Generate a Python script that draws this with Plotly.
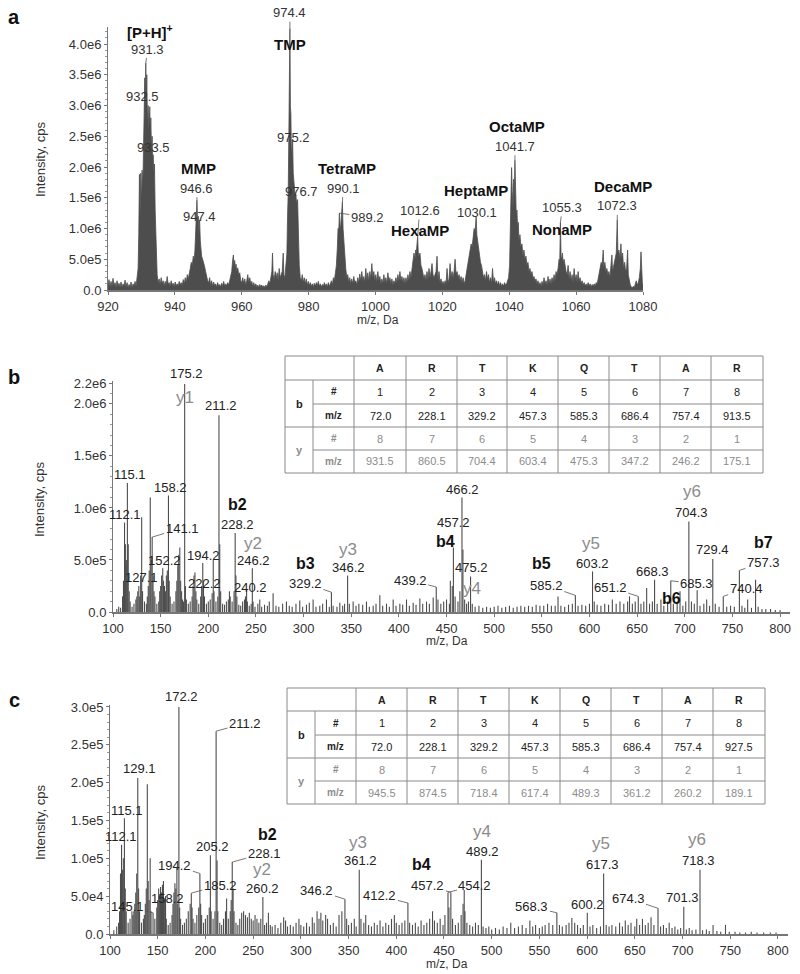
import plotly.graph_objects as go

FONT = "Liberation Sans, Arial, sans-serif"
W, H = 800, 974

# ---------------- Panel a : full-scan profile (m/z, intensity x1e6) ----------------
a_profile = [
    (920.0, 0.08), (920.3, 0.17), (920.6, 0.05), (920.9, 0.14), (921.2, 0.06), (921.5, 0.19), (921.8, 0.07),
    (922.1, 0.12), (922.4, 0.04), (922.7, 0.15), (923.0, 0.06), (923.3, 0.11), (923.6, 0.05), (923.9, 0.13),
    (924.2, 0.04), (924.5, 0.10), (924.8, 0.06), (925.1, 0.16), (925.4, 0.05), (925.7, 0.12), (926.0, 0.04),
    (926.3, 0.09), (926.6, 0.05), (926.9, 0.13), (927.2, 0.04), (927.5, 0.10), (927.8, 0.07), (928.1, 0.14),
    (928.4, 0.06), (928.7, 0.20), (929.0, 0.35),
    (929.2, 0.90), (929.4, 1.88), (929.6, 1.20), (929.8, 1.90), (930.0, 1.45), (930.2, 1.95), (930.4, 1.60),
    (930.6, 2.10), (930.8, 2.50), (931.0, 3.45), (931.15, 2.90), (931.3, 3.69), (931.45, 3.10), (931.6, 3.50),
    (931.8, 2.70), (932.0, 3.00), (932.2, 2.60), (932.35, 2.90), (932.5, 2.98), (932.65, 2.50), (932.8, 2.80),
    (933.0, 2.30), (933.2, 2.50), (933.35, 2.10), (933.5, 2.20), (933.7, 1.90), (933.9, 2.05), (934.1, 1.30),
    (934.3, 1.00), (934.5, 0.50), (934.7, 0.25), (935.0, 0.12),
    (935.3, 0.18), (935.6, 0.08), (935.9, 0.20), (936.2, 0.10), (936.5, 0.15), (936.8, 0.06), (937.1, 0.14),
    (937.4, 0.08), (937.7, 0.22), (938.0, 0.09), (938.3, 0.12), (938.6, 0.06), (938.9, 0.15), (939.2, 0.08),
    (939.5, 0.11), (939.8, 0.05), (940.1, 0.13), (940.4, 0.07), (940.7, 0.10), (941.0, 0.06), (941.3, 0.14),
    (941.6, 0.08), (941.9, 0.12), (942.2, 0.07), (942.5, 0.17), (942.8, 0.10), (943.1, 0.20), (943.4, 0.12),
    (943.7, 0.25), (944.0, 0.18), (944.3, 0.30),
    (944.6, 0.35), (944.9, 0.45), (945.2, 0.40), (945.5, 0.55), (945.8, 0.50), (946.0, 0.65), (946.2, 0.90),
    (946.4, 1.20), (946.6, 1.46), (946.8, 1.10), (947.0, 1.20), (947.2, 0.90), (947.4, 1.14), (947.6, 0.80),
    (947.8, 0.60), (948.0, 0.55), (948.3, 0.50), (948.6, 0.45), (948.9, 0.38), (949.2, 0.30), (949.5, 0.20),
    (949.8, 0.15),
    (950.1, 0.12), (950.4, 0.20), (950.7, 0.08), (951.0, 0.15), (951.3, 0.06), (951.6, 0.13), (951.9, 0.07),
    (952.2, 0.10), (952.5, 0.05), (952.8, 0.12), (953.1, 0.06), (953.4, 0.09), (953.7, 0.05), (954.0, 0.11),
    (954.3, 0.07), (954.6, 0.14), (954.9, 0.06), (955.2, 0.10), (955.5, 0.07), (955.8, 0.12), (956.1, 0.08),
    (956.4, 0.15), (956.7, 0.20),
    (957.0, 0.30), (957.3, 0.50), (957.5, 0.57), (957.7, 0.40), (957.9, 0.48), (958.1, 0.35), (958.3, 0.42),
    (958.5, 0.30), (958.8, 0.36), (959.1, 0.25), (959.4, 0.28), (959.7, 0.15),
    (960.0, 0.12), (960.3, 0.20), (960.6, 0.10), (960.9, 0.18), (961.2, 0.08), (961.5, 0.15), (961.8, 0.25),
    (962.1, 0.12), (962.4, 0.20), (962.7, 0.10), (963.0, 0.14), (963.3, 0.06), (963.6, 0.12), (963.9, 0.05),
    (964.2, 0.10), (964.5, 0.05), (964.8, 0.08), (965.1, 0.04), (965.4, 0.09), (965.7, 0.05), (966.0, 0.08),
    (966.3, 0.04), (966.6, 0.07), (966.9, 0.04), (967.2, 0.08), (967.5, 0.05), (967.8, 0.10), (968.1, 0.15),
    (968.4, 0.10), (968.7, 0.20),
    (969.0, 0.30), (969.2, 0.60), (969.4, 0.25), (969.7, 0.18), (970.0, 0.30), (970.3, 0.20), (970.6, 0.28),
    (970.9, 0.15), (971.2, 0.35), (971.5, 0.20), (971.8, 0.25), (972.1, 0.30), (972.4, 0.60), (972.6, 0.25),
    (972.9, 0.20), (973.2, 0.35), (973.5, 0.60),
    (973.7, 1.20), (973.9, 1.60), (974.1, 2.60), (974.25, 3.40), (974.4, 4.25), (974.55, 3.00), (974.7, 2.85),
    (974.85, 2.20), (975.0, 2.30), (975.2, 2.45), (975.4, 1.90), (975.6, 1.70), (975.8, 1.60), (976.0, 1.50),
    (976.2, 1.55), (976.4, 1.40), (976.55, 1.45), (976.7, 1.47), (976.85, 1.10), (977.0, 0.70), (977.2, 0.40),
    (977.5, 0.20),
    (977.8, 0.15), (978.1, 0.25), (978.4, 0.12), (978.7, 0.20), (979.0, 0.10), (979.3, 0.18), (979.6, 0.08),
    (979.9, 0.14), (980.2, 0.07), (980.5, 0.12), (980.8, 0.06), (981.1, 0.10), (981.4, 0.05), (981.7, 0.11),
    (982.0, 0.06), (982.3, 0.12), (982.6, 0.07), (982.9, 0.14), (983.2, 0.06), (983.5, 0.10), (983.8, 0.05),
    (984.1, 0.09), (984.4, 0.06), (984.7, 0.12), (985.0, 0.07), (985.3, 0.10), (985.6, 0.05), (985.9, 0.12),
    (986.2, 0.06), (986.5, 0.10), (986.8, 0.15), (987.1, 0.08), (987.4, 0.20), (987.7, 0.15), (988.0, 0.30),
    (988.3, 0.40),
    (988.6, 0.70), (988.8, 1.00), (989.0, 0.95), (989.2, 1.25), (989.4, 1.00), (989.6, 1.05), (989.8, 1.20),
    (990.1, 1.43), (990.3, 1.00), (990.5, 0.80), (990.7, 0.70), (990.9, 0.50), (991.1, 0.35), (991.4, 0.20),
    (991.7, 0.25), (992.0, 0.12), (992.3, 0.20), (992.6, 0.10), (992.9, 0.18), (993.2, 0.10), (993.5, 0.22),
    (993.8, 0.12), (994.1, 0.15), (994.4, 0.08), (994.7, 0.20), (995.0, 0.12), (995.3, 0.26), (995.6, 0.15),
    (995.9, 0.30), (996.2, 0.15), (996.5, 0.22), (996.8, 0.12), (997.1, 0.35), (997.4, 0.15), (997.7, 0.28),
    (998.0, 0.14), (998.3, 0.30), (998.6, 0.18), (998.9, 0.43), (999.2, 0.20), (999.5, 0.30), (999.8, 0.15),
    (1000.1, 0.25), (1000.4, 0.12), (1000.7, 0.30), (1001.0, 0.15), (1001.3, 0.22), (1001.6, 0.10),
    (1001.9, 0.18), (1002.2, 0.10), (1002.5, 0.25), (1002.8, 0.12), (1003.1, 0.20), (1003.4, 0.10),
    (1003.7, 0.28), (1004.0, 0.15), (1004.3, 0.20), (1004.6, 0.10), (1004.9, 0.18), (1005.2, 0.08),
    (1005.5, 0.15), (1005.8, 0.10), (1006.1, 0.20), (1006.4, 0.12), (1006.7, 0.25), (1007.0, 0.14),
    (1007.3, 0.30), (1007.6, 0.15), (1007.9, 0.22), (1008.2, 0.12), (1008.5, 0.20), (1008.8, 0.10),
    (1009.1, 0.20), (1009.4, 0.12), (1009.7, 0.25), (1010.0, 0.15), (1010.3, 0.30), (1010.6, 0.20),
    (1010.9, 0.35),
    (1011.2, 0.45), (1011.5, 0.60), (1011.8, 0.50), (1012.0, 0.65), (1012.2, 0.60), (1012.4, 0.80),
    (1012.6, 0.87), (1012.8, 0.60), (1013.0, 0.55), (1013.3, 0.60), (1013.6, 0.40), (1013.9, 0.35),
    (1014.2, 0.25), (1014.5, 0.18),
    (1014.8, 0.25), (1015.1, 0.15), (1015.4, 0.30), (1015.7, 0.18), (1016.0, 0.35), (1016.3, 0.20),
    (1016.6, 0.30), (1016.9, 0.43), (1017.2, 0.25), (1017.5, 0.20), (1017.8, 0.25), (1018.1, 0.30),
    (1018.4, 0.55), (1018.7, 0.15), (1019.0, 0.30), (1019.3, 0.12), (1019.6, 0.18), (1019.9, 0.10),
    (1020.2, 0.14), (1020.5, 0.08), (1020.8, 0.15), (1021.1, 0.10), (1021.4, 0.35), (1021.7, 0.12),
    (1022.0, 0.18), (1022.3, 0.43), (1022.6, 0.20), (1022.9, 0.30), (1023.2, 0.20), (1023.5, 0.30),
    (1023.8, 0.50), (1024.1, 0.25), (1024.4, 0.30), (1024.7, 0.20), (1025.0, 0.25), (1025.3, 0.15),
    (1025.6, 0.22), (1025.9, 0.12), (1026.2, 0.20), (1026.5, 0.10), (1026.8, 0.15), (1027.1, 0.25),
    (1027.4, 0.30),
    (1027.7, 0.45), (1028.0, 0.55), (1028.3, 0.60), (1028.6, 0.75), (1028.9, 0.70), (1029.2, 0.90),
    (1029.5, 1.00), (1029.8, 0.95), (1030.1, 1.19), (1030.3, 0.90), (1030.5, 0.80), (1030.8, 0.65),
    (1031.1, 0.55), (1031.4, 0.45), (1031.7, 0.40), (1032.0, 0.30), (1032.3, 0.20),
    (1032.6, 0.25), (1032.9, 0.15), (1033.2, 0.30), (1033.5, 0.18), (1033.8, 0.25), (1034.1, 0.12),
    (1034.4, 0.20), (1034.7, 0.10), (1035.0, 0.35), (1035.3, 0.12), (1035.6, 0.20), (1035.9, 0.10),
    (1036.2, 0.15), (1036.5, 0.08), (1036.8, 0.14), (1037.1, 0.07), (1037.4, 0.12), (1037.7, 0.06),
    (1038.0, 0.10), (1038.3, 0.06), (1038.6, 0.12), (1038.9, 0.08), (1039.2, 0.10), (1039.5, 0.15),
    (1039.8, 0.20),
    (1040.1, 0.40), (1040.3, 1.20), (1040.5, 1.90), (1040.7, 1.99), (1040.9, 1.60), (1041.1, 1.30),
    (1041.3, 1.80), (1041.5, 1.50), (1041.7, 2.11), (1041.9, 1.40), (1042.1, 1.20), (1042.3, 1.30),
    (1042.5, 1.00), (1042.7, 1.10), (1042.9, 0.80), (1043.2, 0.90), (1043.5, 0.70), (1043.8, 0.75),
    (1044.1, 0.55), (1044.4, 0.65), (1044.7, 0.50), (1045.0, 0.55), (1045.3, 0.40), (1045.6, 0.45),
    (1045.9, 0.30), (1046.2, 0.35), (1046.5, 0.25), (1046.8, 0.30), (1047.1, 0.20), (1047.4, 0.22),
    (1047.7, 0.15), (1048.0, 0.18),
    (1048.3, 0.10), (1048.6, 0.15), (1048.9, 0.08), (1049.2, 0.12), (1049.5, 0.06), (1049.8, 0.14),
    (1050.1, 0.08), (1050.4, 0.20), (1050.7, 0.10), (1051.0, 0.15), (1051.3, 0.08), (1051.6, 0.22),
    (1051.9, 0.10), (1052.2, 0.18), (1052.5, 0.10), (1052.8, 0.20), (1053.1, 0.12), (1053.4, 0.25),
    (1053.7, 0.15), (1054.0, 0.30), (1054.3, 0.25),
    (1054.6, 0.35), (1054.9, 0.50), (1055.1, 0.45), (1055.3, 1.10), (1055.5, 0.55), (1055.7, 0.50),
    (1055.9, 0.60), (1056.1, 0.45), (1056.4, 0.50), (1056.7, 0.35), (1057.0, 0.30), (1057.3, 0.25),
    (1057.6, 0.40), (1057.9, 0.18), (1058.2, 0.30), (1058.5, 0.15), (1058.8, 0.25), (1059.1, 0.12),
    (1059.4, 0.35), (1059.7, 0.15), (1060.0, 0.25), (1060.3, 0.12), (1060.6, 0.30), (1060.9, 0.14),
    (1061.2, 0.20), (1061.5, 0.10), (1061.8, 0.15), (1062.1, 0.08), (1062.4, 0.12), (1062.7, 0.06),
    (1063.0, 0.10), (1063.3, 0.06), (1063.6, 0.12), (1063.9, 0.07), (1064.2, 0.10), (1064.5, 0.05),
    (1064.8, 0.09), (1065.1, 0.06), (1065.4, 0.10), (1065.7, 0.06), (1066.0, 0.12), (1066.3, 0.10),
    (1066.6, 0.18), (1066.9, 0.25),
    (1067.2, 0.35), (1067.5, 0.45), (1067.8, 0.40), (1068.1, 0.65), (1068.3, 0.35), (1068.6, 0.45),
    (1068.9, 0.30), (1069.2, 0.35), (1069.5, 0.25), (1069.8, 0.30), (1070.1, 0.20), (1070.4, 0.35),
    (1070.7, 0.57), (1070.9, 0.30), (1071.2, 0.40), (1071.5, 0.45), (1071.8, 0.55), (1072.0, 0.60),
    (1072.3, 1.14), (1072.5, 0.60), (1072.8, 0.65), (1073.1, 0.50), (1073.4, 0.75), (1073.6, 0.50),
    (1073.9, 0.60), (1074.2, 0.35), (1074.5, 0.45), (1074.8, 0.30), (1075.1, 0.35), (1075.4, 0.65),
    (1075.6, 0.25), (1075.9, 0.15), (1076.2, 0.08), (1076.5, 0.05), (1076.8, 0.04), (1077.1, 0.06),
    (1077.4, 0.04), (1077.7, 0.10), (1078.0, 0.15), (1078.3, 0.08), (1078.6, 0.12), (1078.9, 0.20),
    (1079.2, 0.35), (1079.4, 0.62), (1079.6, 0.20), (1079.8, 0.12), (1080.0, 0.08),
]
a_scale = 1e6

# ---------------- Panel b : MS/MS sticks (m/z, intensity x1e6) ----------------
b_peaks = [
    (104, 0.03), (106, 0.05), (108, 0.04), (110, 0.15), (111, 0.30), (112.1, 0.86), (113, 0.65), (113.5, 0.45),
    (114, 0.50), (115.1, 1.24), (116, 0.65), (117, 0.20), (118, 0.10), (120, 0.05), (122, 0.08), (124, 0.12),
    (125, 0.15), (126, 0.20), (127.1, 0.25), (128, 0.15), (129, 0.35), (130.1, 0.91), (131, 0.20), (133, 0.10),
    (135, 0.08), (136, 0.15), (137, 0.25), (138, 0.40), (139.1, 1.10), (140, 0.50), (141.1, 0.72), (142, 0.35),
    (143, 0.20), (144, 0.15), (146, 0.08), (148, 0.10), (149, 0.20), (150, 0.25), (151, 0.35), (152.2, 0.42),
    (153, 0.30), (154, 0.25), (155, 0.20), (156, 0.35), (157, 0.40), (158.2, 1.12), (159, 0.30), (160, 0.15),
    (162, 0.08), (164, 0.10), (166, 0.20), (167, 0.30), (168, 0.45), (169, 0.55), (170.1, 0.62), (171, 0.30),
    (172, 0.20), (173, 0.12), (174, 0.10), (175.2, 2.19), (176, 0.25), (177, 0.12), (179, 0.08), (181, 0.10),
    (183, 0.15), (184, 0.25), (185, 0.35), (186, 0.38), (187, 0.20), (188, 0.12), (190, 0.08), (192, 0.15),
    (193, 0.25), (194.2, 0.47), (195, 0.30), (196, 0.15), (198, 0.08), (200, 0.10), (202, 0.12), (204, 0.18),
    (205.2, 0.50), (206, 0.20), (208, 0.10), (210, 0.15), (211.2, 1.89), (212, 0.65), (213, 0.20), (215, 0.08),
    (217, 0.07), (219, 0.10), (221, 0.12), (222.2, 0.20), (223, 0.15), (225, 0.10), (227, 0.20), (228.2, 0.76),
    (229, 0.35), (230, 0.15), (232, 0.07), (234, 0.06), (236, 0.10), (238, 0.12), (239, 0.15), (240.2, 0.22),
    (241, 0.10), (243, 0.06), (245, 0.08), (246.2, 0.42), (247, 0.10), (249, 0.05), (252, 0.08), (254, 0.12),
    (256, 0.05), (259, 0.07), (262, 0.06), (264, 0.10), (268, 0.18), (271, 0.06), (274, 0.05), (278, 0.08),
    (282, 0.10), (285, 0.06), (288, 0.05), (292, 0.08), (296, 0.11), (299, 0.05), (303, 0.07), (306, 0.09),
    (310, 0.12), (313, 0.05), (317, 0.06), (320, 0.08), (324, 0.12), (327, 0.05), (329.2, 0.19), (331, 0.06),
    (335, 0.05), (338, 0.09), (341, 0.06), (343, 0.08), (346.2, 0.35), (348, 0.08), (352, 0.10), (355, 0.06),
    (358, 0.08), (362, 0.07), (366, 0.10), (369, 0.05), (373, 0.06), (376, 0.08), (380, 0.16), (383, 0.06),
    (387, 0.08), (390, 0.05), (394, 0.12), (397, 0.06), (401, 0.08), (404, 0.07), (408, 0.12), (411, 0.06),
    (415, 0.09), (418, 0.07), (422, 0.13), (425, 0.08), (429, 0.10), (432, 0.08), (436, 0.14), (439.2, 0.24),
    (441, 0.12), (444, 0.08), (447, 0.10), (450, 0.12), (453, 0.08), (454, 0.30), (456, 0.25), (457.2, 0.62),
    (459, 0.15), (462, 0.10), (464, 0.20), (466.2, 1.10), (467.2, 0.60), (469, 0.12), (471, 0.08), (473, 0.10),
    (475.2, 0.34), (477, 0.08), (480, 0.05), (484, 0.06), (488, 0.04), (492, 0.05), (496, 0.04), (500, 0.05),
    (504, 0.06), (508, 0.04), (512, 0.05), (516, 0.06), (520, 0.04), (524, 0.05), (528, 0.06), (532, 0.05),
    (536, 0.06), (540, 0.05), (544, 0.07), (548, 0.06), (552, 0.06), (556, 0.08), (560, 0.06), (564, 0.06),
    (567, 0.15), (570, 0.06), (574, 0.05), (578, 0.07), (582, 0.08), (585.2, 0.16), (588, 0.06), (592, 0.07),
    (596, 0.06), (600, 0.08), (603.2, 0.39), (605, 0.10), (608, 0.07), (612, 0.06), (616, 0.08), (620, 0.07),
    (624, 0.12), (628, 0.08), (632, 0.10), (636, 0.08), (640, 0.10), (642, 0.15), (645, 0.08), (648, 0.10),
    (651.2, 0.15), (654, 0.08), (657, 0.10), (660, 0.23), (663, 0.08), (666, 0.10), (668.3, 0.31), (671, 0.08),
    (675, 0.12), (678, 0.06), (682, 0.10), (685.3, 0.30), (688, 0.08), (692, 0.10), (695, 0.20), (698, 0.06),
    (701, 0.10), (704.3, 0.87), (707, 0.10), (710, 0.08), (713, 0.21), (716, 0.06), (720, 0.08), (723, 0.12),
    (726, 0.06), (729.4, 0.51), (732, 0.08), (736, 0.05), (740.4, 0.15), (744, 0.05), (748, 0.06), (752, 0.05),
    (757.3, 0.40), (760, 0.06), (763, 0.04), (766, 0.12), (770, 0.04), (774.3, 0.31), (777, 0.05), (781, 0.03),
    (785, 0.03), (790, 0.03), (795, 0.02), (800, 0.02),
]
b_scale = 1e6

# ---------------- Panel c : MS/MS sticks (m/z, intensity x1e5) ----------------
c_peaks = [
    (104, 0.05), (107, 0.10), (109, 0.15), (110, 0.30), (111, 0.80), (112.1, 1.18), (113, 0.85), (114, 1.00),
    (115.1, 1.53), (116, 0.60), (117, 0.30), (119, 0.15), (121, 0.20), (123, 0.30), (124, 0.25), (125, 0.30),
    (126, 0.40), (127, 0.55), (128, 0.80), (129.1, 2.06), (130, 0.60), (131, 0.30), (133, 0.15), (135, 0.20),
    (136, 0.25), (137, 0.40), (138, 0.60), (139.1, 1.98), (140, 0.70), (141, 0.45), (142.1, 1.00), (143, 0.30),
    (145.1, 0.28), (147, 0.20), (149, 0.35), (150, 0.45), (151, 0.60), (152, 0.50), (153, 0.62), (154, 0.55),
    (155, 0.65), (156, 0.70), (157, 0.45), (158.2, 0.50), (159, 0.20), (161, 0.12), (163, 0.15), (165, 0.25),
    (166, 0.40), (167, 0.55), (168, 0.67), (169, 0.60), (170.1, 0.88), (171, 0.40), (172.2, 3.00), (173, 0.35),
    (174, 0.20), (176, 0.12), (178, 0.15), (180, 0.20), (182, 0.30), (184, 0.40), (185.2, 0.54), (186, 0.35),
    (187, 0.20), (189, 0.15), (191, 0.25), (193, 0.35), (194.2, 0.80), (195, 0.40), (196, 0.25), (198, 0.15),
    (200, 0.20), (202, 0.25), (204, 0.35), (205.2, 1.04), (206, 0.30), (208, 0.20), (210, 0.30), (211.2, 2.68),
    (212.2, 0.97), (213, 0.30), (215, 0.15), (217, 0.12), (219, 0.20), (221, 0.30), (222.2, 0.47), (224, 0.20),
    (226, 0.30), (227, 0.45), (228.1, 0.95), (229, 0.60), (230, 0.30), (232, 0.15), (234, 0.12), (236, 0.20),
    (238, 0.28), (240, 0.30), (242, 0.25), (244, 0.22), (246, 0.28), (248, 0.20), (250, 0.18), (252, 0.25),
    (254, 0.20), (256, 0.15), (258, 0.20), (260.2, 0.49), (262, 0.12), (264, 0.15), (266, 0.28), (268, 0.12),
    (270, 0.10), (273, 0.12), (276, 0.08), (279, 0.15), (282, 0.22), (284, 0.18), (286, 0.10), (289, 0.12),
    (292, 0.10), (295, 0.15), (298, 0.20), (300, 0.12), (303, 0.10), (306, 0.15), (309, 0.10), (312, 0.22),
    (314, 0.15), (317, 0.30), (319, 0.20), (321, 0.28), (323, 0.18), (326, 0.25), (328, 0.20), (331, 0.12),
    (334, 0.15), (337, 0.10), (340, 0.25), (343, 0.30), (346.2, 0.46), (348, 0.20), (350, 0.12), (353, 0.15),
    (356, 0.20), (358, 0.10), (361.2, 0.85), (363, 0.20), (366, 0.15), (368, 0.25), (371, 0.12), (374, 0.10),
    (377, 0.15), (380, 0.12), (383, 0.18), (386, 0.10), (389, 0.15), (392, 0.12), (395, 0.20), (398, 0.25),
    (400, 0.15), (403, 0.12), (406, 0.15), (409, 0.18), (412.2, 0.41), (414, 0.15), (417, 0.12), (420, 0.15),
    (423, 0.10), (426, 0.18), (429, 0.12), (432, 0.15), (435, 0.20), (438, 0.30), (440, 0.18), (443, 0.15),
    (446, 0.20), (449, 0.12), (451, 0.25), (454.2, 0.55), (455.2, 0.35), (457.2, 0.55), (459, 0.20), (462, 0.12),
    (465, 0.15), (468, 0.25), (470, 0.40), (471.2, 0.58), (472, 0.30), (474, 0.15), (477, 0.12), (480, 0.10),
    (483, 0.15), (486, 0.12), (489.2, 0.98), (491, 0.10), (494, 0.08), (497, 0.10), (500, 0.06), (504, 0.08),
    (508, 0.06), (512, 0.10), (516, 0.08), (520, 0.15), (524, 0.08), (528, 0.10), (532, 0.12), (536, 0.08),
    (540, 0.18), (543, 0.10), (546, 0.12), (550, 0.08), (553, 0.10), (556, 0.12), (560, 0.15), (564, 0.12),
    (568.3, 0.28), (571, 0.12), (574, 0.10), (578, 0.12), (581, 0.15), (584, 0.21), (587, 0.15), (590, 0.12),
    (593, 0.08), (596, 0.12), (600.2, 0.28), (603, 0.10), (606, 0.12), (610, 0.08), (614, 0.10), (617.3, 0.80),
    (620, 0.12), (623, 0.10), (626, 0.12), (630, 0.10), (634, 0.15), (637, 0.10), (640, 0.18), (643, 0.12),
    (646, 0.15), (650, 0.10), (652, 0.20), (655, 0.12), (658, 0.20), (661, 0.12), (664, 0.15), (667, 0.22),
    (670, 0.12), (674.3, 0.34), (677, 0.10), (680, 0.12), (683, 0.08), (686, 0.15), (689, 0.08), (692, 0.10),
    (695, 0.06), (698, 0.08), (701.3, 0.36), (704, 0.06), (707, 0.08), (710, 0.05), (714, 0.06), (718.3, 0.85),
    (721, 0.05), (725, 0.06), (728, 0.04), (732, 0.12), (736, 0.04), (740, 0.03), (745, 0.12), (749, 0.03),
    (755, 0.03), (760, 0.02), (766, 0.02), (772, 0.03), (778, 0.02), (785, 0.02), (792, 0.02), (798, 0.02),
]
c_scale = 1e5

# ---------------- ticks ----------------
a_xticks = [920, 940, 960, 980, 1000, 1020, 1040, 1060, 1080]
a_yticks = [0, 5e5, 1e6, 1.5e6, 2e6, 2.5e6, 3e6, 3.5e6, 4e6]
a_yticktext = ["0.0", "5.0e5", "1.0e6", "1.5e6", "2.0e6", "2.5e6", "3.0e6", "3.5e6", "4.0e6"]
bc_xticks = [100, 150, 200, 250, 300, 350, 400, 450, 500, 550, 600, 650, 700, 750, 800]
b_yticks = [0, 5e5, 1e6, 1.5e6, 2e6, 2.2e6]
b_yticktext = ["0.0", "5.0e5", "1.0e6", "1.5e6", "2.0e6", "2.2e6"]
c_yticks = [0, 5e4, 1e5, 1.5e5, 2e5, 2.5e5, 3e5]
c_yticktext = ["0.0", "5.0e4", "1.0e5", "1.5e5", "2.0e5", "2.5e5", "3.0e5"]

# ---------------- fragment tables ----------------
sequence = ["A", "R", "T", "K", "Q", "T", "A", "R"]
b_ion_num = ["1", "2", "3", "4", "5", "6", "7", "8"]
y_ion_num = ["8", "7", "6", "5", "4", "3", "2", "1"]
tb_b_mz = ["72.0", "228.1", "329.2", "457.3", "585.3", "686.4", "757.4", "913.5"]
tb_y_mz = ["931.5", "860.5", "704.4", "603.4", "475.3", "347.2", "246.2", "175.1"]
tc_b_mz = ["72.0", "228.1", "329.2", "457.3", "585.3", "686.4", "757.4", "927.5"]
tc_y_mz = ["945.5", "874.5", "718.4", "617.4", "489.3", "361.2", "260.2", "189.1"]

# ---------------- peak labels: (m/z, text, dx, dy, leader) ----------------
a_num_labels = [
    (931.3, "931.3", 2, -14, True), (932.5, "932.5", -7, -10, False), (933.5, "933.5", 0, -7, False),
    (946.6, "946.6", 0, -12, True), (947.4, "947.4", 0, -3, False), (974.4, "974.4", 0, -16, True),
    (975.2, "975.2", 1, -2, False), (976.7, "976.7", 4, -8, False), (990.1, "990.1", 1, -14, True),
    (989.2, "989.2", 28, 4, True), (1012.6, "1012.6", 2, -26, True), (1030.1, "1030.1", 1, -4, False),
    (1041.7, "1041.7", 0, -14, True), (1055.3, "1055.3", 2, -15, True), (1072.3, "1072.3", 0, -14, True),
]
a_name_labels = [
    (931.3, "[P+H]<sup>+</sup>", 4, -32), (946.6, "MMP", 2, -32), (974.4, "TMP", 0, 16),
    (990.1, "TetraMP", 5, -34), (1012.6, "HexaMP", 2, -6), (1030.1, "HeptaMP", 0, -26),
    (1041.7, "OctaMP", 2, -34), (1055.3, "NonaMP", 2, 7), (1072.3, "DecaMP", 6, -33),
]
b_num_labels = [
    (175.2, "175.2", 2, -11, False), (211.2, "211.2", 2, -10, False), (115.1, "115.1", 3, -8, False),
    (112.1, "112.1", 0, -8, False), (158.2, "158.2", 2, -8, False), (141.1, "141.1", 30, -9, True),
    (152.2, "152.2", 2, -8, False), (127.1, "127.1", 3, -8, False), (194.2, "194.2", 1, -8, False),
    (222.2, "222.2", -25, -8, False), (240.2, "240.2", 4, -2, False), (228.2, "228.2", 2, -8, False),
    (246.2, "246.2", 1, -8, False), (329.2, "329.2", -26, -9, True), (346.2, "346.2", 1, -8, False),
    (439.2, "439.2", -26, -7, True), (466.2, "466.2", 1, -8, False), (457.2, "457.2", 0, -25, False),
    (475.2, "475.2", 1, -9, False), (585.2, "585.2", -29, -10, True), (603.2, "603.2", 0, -8, False),
    (651.2, "651.2", -28, -9, True), (668.3, "668.3", -2, -8, False), (685.3, "685.3", 26, 3, True),
    (704.3, "704.3", 3, -9, False), (729.4, "729.4", 0, -9, False), (757.3, "757.3", 24, -8, True),
    (740.4, "740.4", 23, -8, True),
]
b_ion_labels = [
    (175.2, "y1", 0, 13), (228.2, "b2", 2, -28), (246.2, "y2", 1, -25), (329.2, "b3", -26, -29),
    (346.2, "y3", 0, -26), (457.2, "b4", -8, -6), (475.2, "y4", 1, 12), (585.2, "b5", -34, -32),
    (603.2, "y5", -2, -28), (685.3, "b6", 1, 18), (704.3, "y6", 3, -30), (757.3, "b7", 24, -28),
]
c_num_labels = [
    (172.2, "172.2", 3, -10, False), (211.2, "211.2", 29, -8, True), (129.1, "129.1", 2, -10, False),
    (115.1, "115.1", 3, -8, False), (112.1, "112.1", -1, -8, False), (145.1, "145.1", -26, -6, True),
    (158.2, "158.2", 2, 2, False), (194.2, "194.2", -25, -8, True), (185.2, "185.2", 29, -8, True),
    (205.2, "205.2", 2, -9, False), (228.1, "228.1", 32, -9, True), (260.2, "260.2", 0, -8, False),
    (346.2, "346.2", -28, -9, True), (361.2, "361.2", 1, -9, False), (412.2, "412.2", -28, -7, True),
    (457.2, "457.2", -23, -7, True), (454.2, "454.2", 27, -7, True), (489.2, "489.2", 1, -8, False),
    (568.3, "568.3", -25, -6, True), (600.2, "600.2", 0, -8, False), (617.3, "617.3", -1, -9, False),
    (674.3, "674.3", -30, -10, True), (701.3, "701.3", -1, -9, False), (718.3, "718.3", -2, -9, False),
]
c_ion_labels = [
    (228.1, "b2", 35, -28), (260.2, "y2", -1, -27), (361.2, "y3", -1, -27), (457.2, "b4", -29, -28),
    (489.2, "y4", 1, -28), (617.3, "y5", -3, -30), (718.3, "y6", -3, -30),
]

# ======================================================================
fig = go.Figure()
SPEC = "#4d4d4d"

a_mz = [p[0] for p in a_profile]
a_int = [p[1] * a_scale for p in a_profile]
fig.add_trace(go.Scatter(x=a_mz, y=a_int, mode="lines", fill="tozeroy",
                         line=dict(color=SPEC, width=0.8), fillcolor=SPEC,
                         xaxis="x", yaxis="y", hoverinfo="skip", showlegend=False))


def sticks(peaks, scale):
    xs, ys = [], []
    for m, v in peaks:
        xs += [m, m, None]
        ys += [0, v * scale, None]
    return xs, ys


bx, by = sticks(b_peaks, b_scale)
fig.add_trace(go.Scatter(x=bx, y=by, mode="lines", line=dict(color=SPEC, width=1.1),
                         xaxis="x2", yaxis="y2", hoverinfo="skip", showlegend=False))
cx, cy = sticks(c_peaks, c_scale)
fig.add_trace(go.Scatter(x=cx, y=cy, mode="lines", line=dict(color=SPEC, width=1.1),
                         xaxis="x3", yaxis="y3", hoverinfo="skip", showlegend=False))

axis_common = dict(showline=True, linecolor="#777", ticks="outside", ticklen=3, tickcolor="#777",
                   showgrid=False, zeroline=False, automargin=False,
                   tickfont=dict(size=13, color="#333", family=FONT))


def xaxis(domain, rng, ticks, anchor):
    return dict(axis_common, domain=domain, range=rng, tickvals=ticks, anchor=anchor, linewidth=2)


def yaxis(domain, rng, ticks, text, anchor, minor_dt):
    return dict(axis_common, domain=domain, range=rng, tickvals=ticks, ticktext=text, anchor=anchor,
                linewidth=1, minor=dict(ticks="outside", ticklen=2, tickcolor="#999", dtick=minor_dt, tick0=0))


fig.update_layout(
    template="none",
    width=W, height=H, margin=dict(l=0, r=0, t=0, b=0, pad=0, autoexpand=False),
    paper_bgcolor="white", plot_bgcolor="white", showlegend=False,
    font=dict(family=FONT, color="#222"),
    xaxis=xaxis([108 / W, 643 / W], [920, 1080], a_xticks, "y"),
    yaxis=yaxis([1 - 290 / H, 1 - 27.4 / H], [0, 4.27e6], a_yticks, a_yticktext, "x", 1e5),
    xaxis2=xaxis([113 / W, 789.6 / W], [100, 810], bc_xticks, "y2"),
    yaxis2=yaxis([1 - 612 / H, 1 - 381 / H], [0, 2.22e6], b_yticks, b_yticktext, "x2", 1e5),
    xaxis3=xaxis([110 / W, 787.5 / W], [100, 810], bc_xticks, "y3"),
    yaxis3=yaxis([1 - 934 / H, 1 - 704.7 / H], [0, 3.03e5], c_yticks, c_yticktext, "x3", 1e4),
)

ann = []


def add_label(xr, yr, mz, h, text, dx, dy, arrow=False, size=13, color="#222"):
    f = dict(size=size, color=color, family=FONT)
    if arrow:
        ann.append(dict(x=mz, y=h, xref=xr, yref=yr, text=text, showarrow=True, arrowhead=0,
                        arrowwidth=0.8, arrowcolor="#555", ax=dx, ay=dy, standoff=0, font=f))
    else:
        ann.append(dict(x=mz, y=h, xref=xr, yref=yr, text=text, showarrow=False,
                        xshift=dx, yshift=-dy, font=f))


a_lookup = dict(a_profile)
for mz, t, dx, dy, ar in a_num_labels:
    add_label("x", "y", mz, a_lookup[mz] * a_scale, t, dx, dy, ar, 13, "#333")
for mz, t, dx, dy in a_name_labels:
    add_label("x", "y", mz, a_lookup[mz] * a_scale, "<b>" + t + "</b>", dx, dy, False, 15, "#111")

b_lookup = dict(b_peaks)
for mz, t, dx, dy, ar in b_num_labels:
    add_label("x2", "y2", mz, b_lookup[mz] * b_scale, t, dx, dy, ar, 13, "#222")
for mz, t, dx, dy in b_ion_labels:
    if t.startswith("b"):
        add_label("x2", "y2", mz, b_lookup[mz] * b_scale, "<b>" + t + "</b>", dx, dy, False, 16, "#111")
    else:
        add_label("x2", "y2", mz, b_lookup[mz] * b_scale, t, dx, dy, False, 17, "#8c8c8c")

c_lookup = dict(c_peaks)
for mz, t, dx, dy, ar in c_num_labels:
    add_label("x3", "y3", mz, c_lookup[mz] * c_scale, t, dx, dy, ar, 13, "#222")
for mz, t, dx, dy in c_ion_labels:
    if t.startswith("b"):
        add_label("x3", "y3", mz, c_lookup[mz] * c_scale, "<b>" + t + "</b>", dx, dy, False, 16, "#111")
    else:
        add_label("x3", "y3", mz, c_lookup[mz] * c_scale, t, dx, dy, False, 17, "#8c8c8c")


def paper_text(px, py, text, size=13, color="#333", angle=0):
    ann.append(dict(x=px / W, y=1 - py / H, xref="paper", yref="paper", text=text, showarrow=False,
                    textangle=angle, font=dict(size=size, color=color, family=FONT),
                    xanchor="center", yanchor="middle"))


# panel letters
paper_text(14, 17, "<b>a</b>", 20, "#111")
paper_text(14, 377, "<b>b</b>", 20, "#111")
paper_text(14, 700, "<b>c</b>", 20, "#111")
# axis titles
for py in (160, 500, 823):
    paper_text(40, py, "Intensity, cps", 13, "#333", -90)
paper_text(378, 320, "m/z, Da", 12, "#333")
paper_text(447, 641, "m/z, Da", 12, "#333")
paper_text(447, 964, "m/z, Da", 12, "#333")

# tables
shapes = []


def table(xs, ys, b_mz, y_mz):
    lc = dict(color="#8a8a8a", width=1)

    def line(x0, y0, x1, y1):
        shapes.append(dict(type="line", xref="paper", yref="paper", x0=x0 / W, x1=x1 / W,
                           y0=1 - y0 / H, y1=1 - y1 / H, line=lc))

    left, right = xs[0], xs[-1]
    top, bot = ys[0], ys[-1]
    line(left, top, right, top)
    line(left, bot, right, bot)
    line(left, top, left, bot)
    line(right, top, right, bot)
    line(left, ys[1], right, ys[1])
    line(left, ys[3], right, ys[3])
    line(xs[1], ys[2], right, ys[2])
    line(xs[1], ys[4], right, ys[4])
    line(xs[1], ys[1], xs[1], bot)
    for xv in xs[2:-1]:
        line(xv, top, xv, bot)
    cy = [(ys[i] + ys[i + 1]) / 2 for i in range(5)]
    cxs = [(xs[i] + xs[i + 1]) / 2 for i in range(2, len(xs) - 1)]
    black, grey = "#222", "#8c8c8c"
    paper_text((xs[0] + xs[1]) / 2, (ys[1] + ys[3]) / 2, "<b>b</b>", 11, black)
    paper_text((xs[0] + xs[1]) / 2, (ys[3] + ys[5]) / 2, "<b>y</b>", 11, grey)
    paper_text((xs[1] + xs[2]) / 2, cy[1], "<b>#</b>", 10, black)
    paper_text((xs[1] + xs[2]) / 2, cy[2], "<b>m/z</b>", 10, black)
    paper_text((xs[1] + xs[2]) / 2, cy[3], "<b>#</b>", 10, grey)
    paper_text((xs[1] + xs[2]) / 2, cy[4], "<b>m/z</b>", 10, grey)
    for i, cxv in enumerate(cxs):
        paper_text(cxv, cy[0], "<b>" + sequence[i] + "</b>", 10.5, black)
        paper_text(cxv, cy[1], b_ion_num[i], 11, black)
        paper_text(cxv, cy[2], b_mz[i], 11, black)
        paper_text(cxv, cy[3], y_ion_num[i], 11, grey)
        paper_text(cxv, cy[4], y_mz[i], 11, grey)


table([285, 313, 354, 406, 457, 507, 558, 609, 660, 711, 763], [356, 380, 404, 427, 450, 473], tb_b_mz, tb_y_mz)
table([287, 315, 356, 407, 458, 509, 560, 611, 662, 713, 765], [688, 711, 735, 758, 781, 804], tc_b_mz, tc_y_mz)

fig.update_layout(annotations=ann, shapes=shapes)
fig.write_html("out.html", config={"displayModeBar": False},
               post_script="document.body.style.margin='0px';document.body.style.overflow='hidden';")
